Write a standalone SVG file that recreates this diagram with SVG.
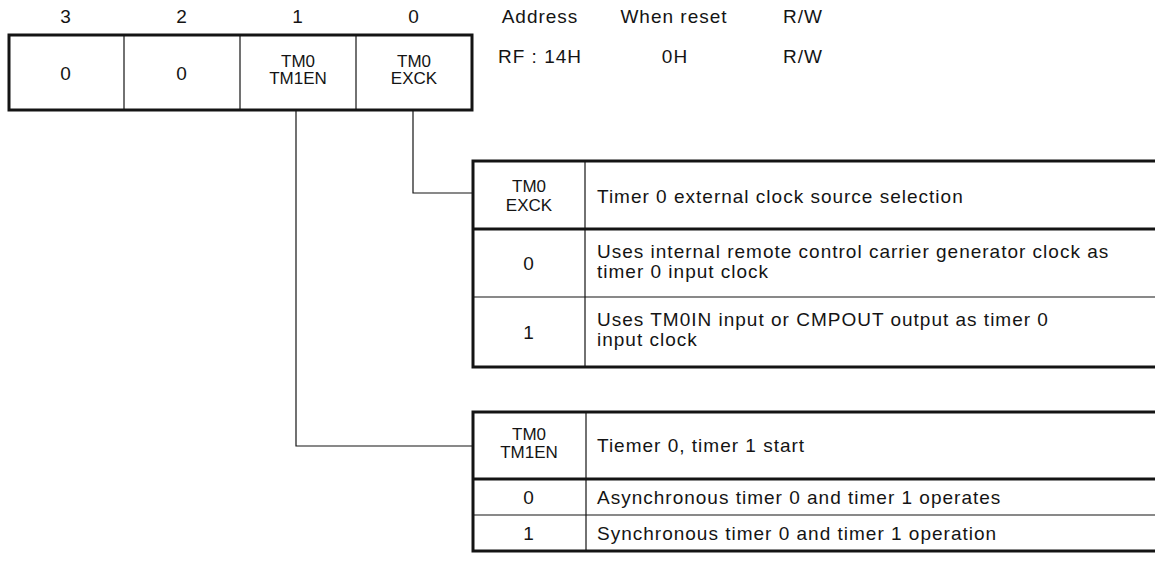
<svg xmlns="http://www.w3.org/2000/svg" width="1155" height="571" viewBox="0 0 1155 571">
<style>
text{font-family:"Liberation Sans",Arial,sans-serif;fill:#141414}
.t{font-size:19px;letter-spacing:1px}
.c{text-anchor:middle}
.s{font-size:17px;letter-spacing:0px}
.thick{stroke:#141414;stroke-width:3;fill:none}
.thin{stroke:#141414;stroke-width:1.2;fill:none}
</style>
<rect width="1155" height="571" fill="#fff"/>
<g id="bit-labels">
<text class="t c" x="66" y="23">3</text>
<text class="t c" x="182" y="23">2</text>
<text class="t c" x="298" y="23">1</text>
<text class="t c" x="414" y="23">0</text>
<text class="t c" x="540" y="23">Address</text>
<text class="t c" x="674" y="23">When reset</text>
<text class="t c" x="803" y="23">R/W</text>
<text class="t c" x="540" y="63">RF : 14H</text>
<text class="t c" x="675" y="63">0H</text>
<text class="t c" x="803" y="63">R/W</text>
</g>
<g id="register">
<rect class="thick" x="9" y="35" width="463" height="75"/>
<line class="thin" x1="124" y1="35" x2="124" y2="110"/>
<line class="thin" x1="240" y1="35" x2="240" y2="110"/>
<line class="thin" x1="356" y1="35" x2="356" y2="110"/>
<text class="t c" x="66" y="80">0</text>
<text class="t c" x="182" y="80">0</text>
<text class="s c" x="298" y="67">TM0</text>
<text class="s c" x="298" y="84">TM1EN</text>
<text class="s c" x="414" y="67">TM0</text>
<text class="s c" x="414" y="84">EXCK</text>
</g>
<g id="connectors">
<polyline class="thin" points="413,110 413,193 472,193"/>
<polyline class="thin" points="296,110 296,446 472,446"/>
</g>
<g id="table-exck">
<path class="thick" d="M1160,161 H473 V367 H1160"/>
<line class="thick" x1="473" y1="229" x2="1160" y2="229"/>
<line class="thin" x1="473" y1="297" x2="1160" y2="297"/>
<line class="thin" x1="585" y1="161" x2="585" y2="367"/>
<text class="s c" x="529" y="192">TM0</text>
<text class="s c" x="529" y="211">EXCK</text>
<text class="t" x="597" y="203">Timer 0 external clock source selection</text>
<text class="t c" x="529" y="270">0</text>
<text class="t" x="597" y="258">Uses internal remote control carrier generator clock as</text>
<text class="t" x="597" y="278">timer 0 input clock</text>
<text class="t c" x="529" y="339">1</text>
<text class="t" x="597" y="326">Uses TM0IN input or CMPOUT output as timer 0</text>
<text class="t" x="597" y="346">input clock</text>
</g>
<g id="table-tm1en">
<path class="thick" d="M1160,412 H473 V551 H1160"/>
<line class="thick" x1="473" y1="479" x2="1160" y2="479"/>
<line class="thin" x1="473" y1="515" x2="1160" y2="515"/>
<line class="thin" x1="586" y1="412" x2="586" y2="551"/>
<text class="s c" x="529" y="440">TM0</text>
<text class="s c" x="529" y="458">TM1EN</text>
<text class="t" x="597" y="452">Tiemer 0, timer 1 start</text>
<text class="t c" x="529" y="504">0</text>
<text class="t" x="597" y="504">Asynchronous timer 0 and timer 1 operates</text>
<text class="t c" x="529" y="540">1</text>
<text class="t" x="597" y="540">Synchronous timer 0 and timer 1 operation</text>
</g>
</svg>
